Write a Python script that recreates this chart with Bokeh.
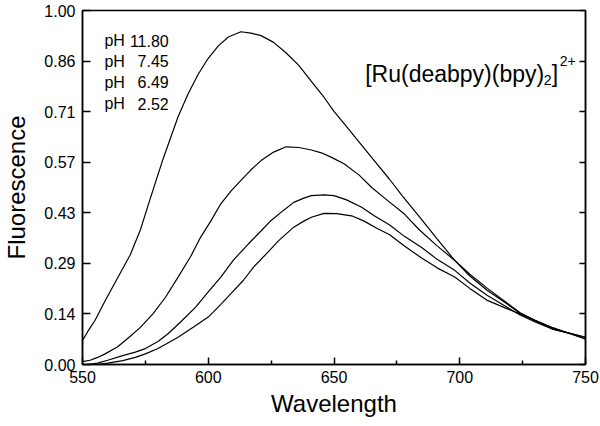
from bokeh.plotting import figure
from bokeh.models import Range1d, FixedTicker, LinearAxis, Label
from bokeh.embed import file_html
from bokeh.resources import INLINE

# ---------------- data ----------------
wl_a = [550, 552, 555, 559, 564, 569, 573, 577, 582, 588, 592, 596, 600, 604, 608, 613, 617, 621,
        626, 631, 636, 641, 646, 650, 655, 660, 666, 672, 677, 684, 691, 698, 704, 711, 718, 724,
        730, 737, 744, 750]
fl_a = [0.068, 0.092, 0.125, 0.18, 0.245, 0.31, 0.38, 0.47, 0.58, 0.70, 0.765, 0.82, 0.865, 0.90,
        0.925, 0.94, 0.936, 0.929, 0.91, 0.88, 0.845, 0.80, 0.755, 0.715, 0.672, 0.628, 0.576,
        0.524, 0.478, 0.417, 0.355, 0.294, 0.255, 0.215, 0.178, 0.146, 0.124, 0.104, 0.087, 0.072]

wl_b = [550, 553, 556, 559, 564, 569, 573, 578, 583, 588, 593, 597, 601, 605, 609, 613, 617, 621,
        626, 631, 636, 641, 645, 649, 654, 660, 665, 671, 678, 684, 691, 698, 704, 711, 718, 724,
        730, 737, 744, 750]
fl_b = [0.008, 0.012, 0.02, 0.03, 0.05, 0.08, 0.105, 0.143, 0.19, 0.247, 0.305, 0.36, 0.405, 0.454,
        0.49, 0.52, 0.55, 0.576, 0.60, 0.615, 0.613, 0.606, 0.598, 0.585, 0.567, 0.535, 0.50,
        0.465, 0.425, 0.38, 0.335, 0.294, 0.25, 0.209, 0.175, 0.145, 0.125, 0.103, 0.087, 0.072]

wl_c = [550, 552, 556, 560, 566, 571, 575, 580, 584, 589, 595, 600, 605, 610, 616, 620, 625, 630,
        634, 638, 641, 646, 650, 655, 661, 666, 672, 678, 685, 691, 698, 704, 711, 718, 724, 730,
        737, 744, 750]
fl_c = [0.0, 0.0, 0.004, 0.012, 0.025, 0.035, 0.045, 0.065, 0.087, 0.12, 0.162, 0.205, 0.247, 0.295,
        0.341, 0.37, 0.407, 0.436, 0.458, 0.47, 0.477, 0.479, 0.477, 0.465, 0.444, 0.42, 0.395,
        0.362, 0.33, 0.297, 0.266, 0.23, 0.195, 0.165, 0.14, 0.12, 0.10, 0.088, 0.077]

wl_d = [550, 556, 560, 566, 571, 575, 580, 585, 588, 594, 600, 605, 609, 614, 618, 623, 628, 634,
        638, 641, 646, 651, 657, 662, 667, 672, 678, 685, 691, 698, 704, 711, 718, 724, 730, 737,
        744, 750]
fl_d = [0.0, 0.0, 0.004, 0.011, 0.02, 0.03, 0.045, 0.065, 0.077, 0.105, 0.134, 0.17, 0.20, 0.238,
        0.275, 0.312, 0.35, 0.388, 0.405, 0.416, 0.427, 0.426, 0.42, 0.405, 0.385, 0.367, 0.335,
        0.30, 0.273, 0.247, 0.215, 0.181, 0.16, 0.143, 0.123, 0.10, 0.087, 0.077]

ph_values = ["11.80", "7.45", "6.49", "2.52"]

x_ticks = [550, 600, 650, 700, 750]
x_minor_ticks = [575, 625, 675, 725]
y_ticks = [0 / 7, 1 / 7, 2 / 7, 3 / 7, 4 / 7, 5 / 7, 6 / 7, 7 / 7]
y_tick_labels = ["0.00", "0.14", "0.29", "0.43", "0.57", "0.71", "0.86", "1.00"]

FONT = "Liberation Sans"

# ---------------- figure ----------------
p = figure(width=600, height=426, output_backend="svg", toolbar_location=None,
           x_range=Range1d(550, 750), y_range=Range1d(0, 1.0),
           min_border_left=77, min_border_top=10, min_border_right=15, min_border_bottom=62)
p.background_fill_color = "white"
p.border_fill_color = "white"
p.grid.visible = False
p.outline_line_color = "black"
p.outline_line_width = 1.5

for xs, ys in [(wl_a, fl_a), (wl_b, fl_b), (wl_c, fl_c), (wl_d, fl_d)]:
    p.line(xs, ys, line_color="black", line_width=1.2)

# bottom axis
xa = p.xaxis[0]
xa.ticker = FixedTicker(ticks=x_ticks, minor_ticks=x_minor_ticks)
xa.axis_label = "Wavelength"
xa.axis_label_text_font = FONT
xa.axis_label_text_font_size = "24px"
xa.axis_label_text_font_style = "normal"
xa.axis_label_text_color = "black"
xa.axis_label_standoff = 4
xa.major_label_text_font = FONT
xa.major_label_text_font_size = "16px"
xa.major_label_text_color = "black"
xa.major_label_standoff = 6
xa.major_tick_in = 7
xa.major_tick_out = 0
xa.minor_tick_in = 4
xa.minor_tick_out = 0
xa.axis_line_width = 1.5
xa.axis_line_color = "black"
xa.major_tick_line_width = 1.5
xa.minor_tick_line_width = 1.5

# left axis
ya = p.yaxis[0]
ya.ticker = FixedTicker(ticks=y_ticks, minor_ticks=[])
ya.major_label_overrides = {t: l for t, l in zip(y_ticks, y_tick_labels)}
ya.axis_label = "Fluorescence"
ya.axis_label_text_font = FONT
ya.axis_label_text_font_size = "24px"
ya.axis_label_text_font_style = "normal"
ya.axis_label_text_color = "black"
ya.axis_label_standoff = 11
ya.major_label_text_font = FONT
ya.major_label_text_font_size = "16px"
ya.major_label_text_color = "black"
ya.major_label_standoff = 7
ya.major_tick_in = 8
ya.major_tick_out = 0
ya.minor_tick_in = 0
ya.minor_tick_out = 0
ya.axis_line_width = 1.5
ya.axis_line_color = "black"
ya.major_tick_line_width = 1.5

# right axis (ticks only)
ra = LinearAxis(ticker=FixedTicker(ticks=y_ticks, minor_ticks=[]))
ra.major_label_overrides = {t: "" for t in y_ticks}
ra.major_label_standoff = 0
ra.major_tick_in = 6
ra.major_tick_out = 0
ra.minor_tick_in = 0
ra.minor_tick_out = 0
ra.axis_line_width = 1.5
ra.major_tick_line_width = 1.5
p.add_layout(ra, "right")

# pH legend texts
ph_y = [0.915, 0.856, 0.797, 0.737]
for val, yy in zip(ph_values, ph_y):
    p.add_layout(Label(x=558.7, y=yy, text="pH", text_font=FONT, text_font_size="16px",
                       text_baseline="middle", text_align="left", text_color="black"))
    p.add_layout(Label(x=584.3, y=yy, text=val, text_font=FONT, text_font_size="16px",
                       text_baseline="middle", text_align="right", text_color="black"))

# compound label: [Ru(deabpy)(bpy)2]2+
cx, cy = 662.4, 0.822
p.add_layout(Label(x=cx, y=cy, text="[Ru(deabpy)(bpy)", text_font=FONT, text_font_size="23px",
                   text_baseline="alphabetic", text_align="left", text_color="black"))
p.add_layout(Label(x=cx, y=cy, x_offset=178.5, y_offset=-6, text="2", text_font=FONT,
                   text_font_size="14px", text_baseline="alphabetic", text_align="left",
                   text_color="black"))
p.add_layout(Label(x=cx, y=cy, x_offset=186.5, text="]", text_font=FONT, text_font_size="23px",
                   text_baseline="alphabetic", text_align="left", text_color="black"))
p.add_layout(Label(x=cx, y=cy, x_offset=194.5, y_offset=13, text="2+", text_font=FONT,
                   text_font_size="14px", text_baseline="alphabetic", text_align="left",
                   text_color="black"))

open("out.html", "w").write(file_html(p, INLINE))
